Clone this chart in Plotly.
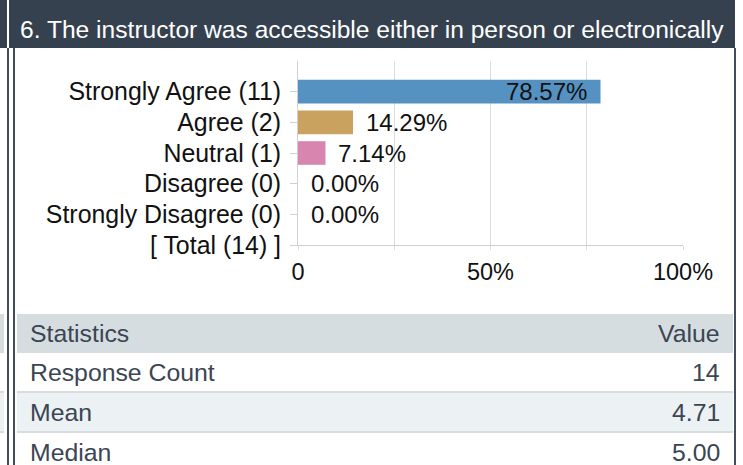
import plotly.graph_objects as go

W, H = 743, 465

# ---------------- data ----------------
title_text = "6. The instructor was accessible either in person or electronically"
categories = ["Strongly Agree", "Agree", "Neutral", "Disagree", "Strongly Disagree"]
counts = [11, 2, 1, 0, 0]
percents = [78.57, 14.29, 7.14, 0.00, 0.00]
total_label = "[ Total (14) ]"
bar_colors = ["#5592c1", "#c9a25f", "#d886b0", "#8fb58f", "#c46a6a"]
x_tickvals = [0, 25, 50, 75, 100]
x_ticktext = ["0", "", "50%", "", "100%"]
stat_headers = ["Statistics", "Value"]
stat_names = ["Response Count", "Mean", "Median"]
stat_values = ["14", "4.71", "5.00"]

FONT = "Liberation Sans, Arial, Helvetica, sans-serif"
HEADER_BG = "#36414f"
LINE_DARK = "#414c5c"
TABLE_HEAD = "#d5dde0"
TABLE_ALT = "#ecf1f4"
TABLE_SEP = "#d6dce0"
TABLE_TXT = "#3b4553"


def px(x):
    return x / W


def py(y):
    return 1 - y / H


labels = [f"{c} ({n})" for c, n in zip(categories, counts)]
y_order = labels + [total_label]

fig = go.Figure()
fig.add_trace(go.Bar(
    x=percents, y=labels, orientation="h",
    marker=dict(color=bar_colors, line=dict(width=0)),
    width=0.77, hoverinfo="skip", showlegend=False,
))

annotations = []
for lab, p in zip(labels, percents):
    inside = p > 50
    annotations.append(dict(
        x=p, y=lab, xref="x", yref="y",
        text=f"{p:.2f}%", showarrow=False,
        xanchor="right" if inside else "left",
        xshift=-11 if inside else 11,
        font=dict(family=FONT, size=24, color="#111111"),
    ))

# header title
annotations.append(dict(
    x=px(18), y=py(29), xref="paper", yref="paper", text=title_text,
    showarrow=False, xanchor="left", yanchor="middle",
    font=dict(family=FONT, size=24.6, color="#ffffff"),
))

# table text
row_tops = [314, 353, 393, 433]
row_bots = [353, 391, 431, 472]
rows = [stat_headers] + [[n, v] for n, v in zip(stat_names, stat_values)]
for (name, val), t, b in zip(rows, row_tops, row_bots):
    yc = py((t + b) / 2)
    annotations.append(dict(x=px(28), y=yc, xref="paper", yref="paper", text=name,
                            showarrow=False, xanchor="left", yanchor="middle",
                            font=dict(family=FONT, size=24.8, color=TABLE_TXT)))
    annotations.append(dict(x=px(722), y=yc, xref="paper", yref="paper", text=val,
                            showarrow=False, xanchor="right", yanchor="middle",
                            font=dict(family=FONT, size=24.8, color=TABLE_TXT)))


def rect(x0, y0, x1, y1, color):
    return dict(type="rect", xref="paper", yref="paper",
                x0=px(x0), x1=px(x1), y0=py(y1), y1=py(y0),
                fillcolor=color, line=dict(width=0), layer="below")


shapes = [
    # header
    rect(0, 0, 7, 48, HEADER_BG),
    rect(9, 0, 735, 48, HEADER_BG),
    # vertical borders
    rect(7, 48, 9, 465, LINE_DARK),
    rect(13, 48, 15, 465, LINE_DARK),
    rect(734, 48, 736, 465, LINE_DARK),
    # left neighbour table fragment
    rect(0, 314, 4, 353, TABLE_HEAD),
    rect(0, 391, 4, 393, TABLE_SEP),
    rect(0, 393, 4, 431, TABLE_ALT),
    rect(0, 431, 4, 433, TABLE_SEP),
    # main table
    rect(17, 314, 733, 353, TABLE_HEAD),
    rect(17, 391, 733, 393, TABLE_SEP),
    rect(17, 393, 733, 431, TABLE_ALT),
    rect(17, 431, 733, 433, TABLE_SEP),
]

fig.update_layout(
    width=W, height=H, autosize=False,
    margin=dict(l=0, r=0, t=0, b=0, pad=0, autoexpand=False),
    paper_bgcolor="#ffffff", plot_bgcolor="#ffffff",
    font=dict(family=FONT, color="#111111"),
    bargap=0.2,
    xaxis=dict(
        domain=[px(298), px(683)], range=[0, 100], automargin=False,
        tickmode="array", tickvals=x_tickvals, ticktext=x_ticktext,
        showgrid=True, gridcolor="#dcdcdc", gridwidth=1,
        showline=True, linecolor="#d0d0d0", linewidth=1,
        ticks="outside", ticklen=4, tickcolor="#dcdcdc",
        zeroline=False, fixedrange=True,
        tickfont=dict(family=FONT, size=23.5, color="#111111"),
        ticklabelstandoff=2,
    ),
    yaxis=dict(
        domain=[py(245), py(61)], type="category", automargin=False,
        categoryorder="array", categoryarray=y_order,
        range=[5, -1], showgrid=False,
        showline=True, linecolor="#d0d0d0", linewidth=1,
        ticks="outside", ticklen=7, tickcolor="#d0d0d0",
        zeroline=False, fixedrange=True,
        tickfont=dict(family=FONT, size=24.9, color="#111111"),
        ticklabelstandoff=4,
    ),
    shapes=shapes,
    annotations=annotations,
)

fig.write_html(
    "out.html",
    config={"displayModeBar": False},
    post_script="document.body.style.margin='0';document.body.style.overflow='hidden';",
)
